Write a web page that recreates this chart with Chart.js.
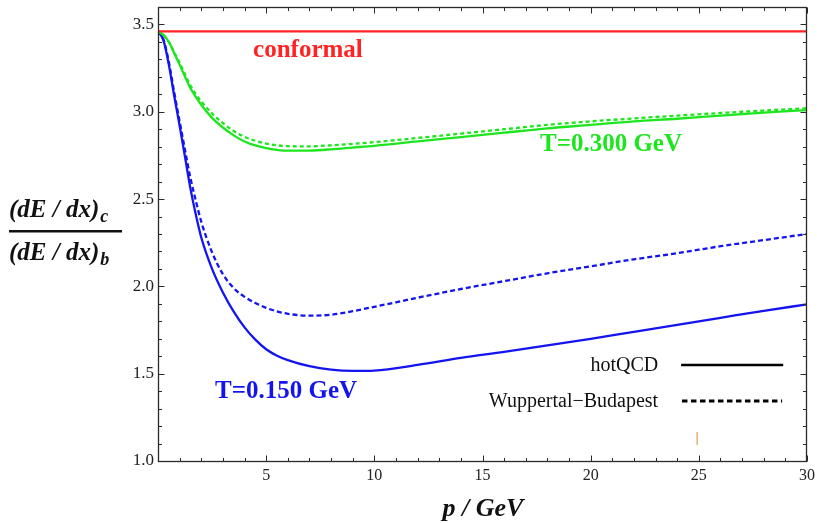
<!DOCTYPE html>
<html><head><meta charset="utf-8">
<script src="https://cdn.jsdelivr.net/npm/chart.js@4/dist/chart.umd.min.js"></script>
<style>html,body{margin:0;padding:0;background:#fff;}#wrap{width:817px;height:523px;}</style>
</head><body><div id="wrap"><canvas id="c" width="817" height="523"></canvas></div>
<script>
// ---- data ----
const momentum =    [0,   0.25, 0.5,  0.75, 1,    1.25, 1.5,  1.75, 2,    2.5,  3,    3.5,  4,    4.5,  5,    5.5,  6,    7,    8,    9,    10,   12,   14,   16,   18,   20,   22,   24,   26,   28,   30];
const blueHotQCD =  [3.46,3.41, 3.27, 3.09, 2.92, 2.74, 2.56, 2.41, 2.28, 2.10, 1.965,1.855,1.765,1.695,1.64, 1.603,1.578,1.543,1.523,1.516,1.518,1.55, 1.59, 1.625,1.662,1.70, 1.74, 1.78, 1.82, 1.86, 1.897];
const blueWB =      [3.46,3.415,3.285,3.11, 2.945,2.78, 2.62, 2.49, 2.37, 2.195,2.07, 1.99, 1.94, 1.905,1.877,1.857,1.843,1.832,1.838,1.858,1.883,1.935,1.985,2.03, 2.075,2.115,2.155,2.19, 2.23, 2.265,2.30];
const greenHotQCD = [3.46,3.44, 3.40, 3.335,3.27, 3.20, 3.135,3.085,3.04, 2.965,2.91, 2.865,2.83, 2.807,2.792,2.782,2.777,2.778,2.785,2.795,2.805,2.83, 2.855,2.88, 2.905,2.925,2.945,2.96, 2.978,2.995,3.01];
const greenWB =     [3.46,3.44, 3.40, 3.34, 3.28, 3.215,3.15, 3.10, 3.06, 2.99, 2.935,2.89, 2.857,2.834,2.818,2.808,2.803,2.802,2.808,2.816,2.826,2.85, 2.875,2.90, 2.925,2.945,2.962,2.978,2.993,3.007,3.02];
const conformalP = [0,30];
const conformalVal = [3.46,3.46];
const markP = [24.92,24.92];
const markVal = [1.166,1.092];
const xTickValues = [0,5,10,15,20,25,30];
const yTickValues = [1.0,1.5,2.0,2.5,3.0,3.5];

const RED = 'rgb(255,35,35)', GREEN = 'rgb(30,230,30)', BLUE = 'rgb(20,20,240)';
const pts = (xs, ys) => xs.map((x,i)=>({x:x,y:ys[i]}));
const line = (data,color,dash,w) => ({data, borderColor:color, borderWidth:w||2.3, borderDash:dash||[], pointRadius:0, fill:false, cubicInterpolationMode:'monotone'});
const noPad = s => { s.paddingTop = 0; s.paddingBottom = 0; s.paddingLeft = 0; s.paddingRight = 0; };

const deco = {
  id:'deco',
  afterDraw(chart){
    const ctx = chart.ctx, xs = chart.scales.x, ys = chart.scales.y;
    const {left,right,top,bottom} = chart.chartArea;
    ctx.save();
    // frame
    ctx.strokeStyle = '#2a2a2a'; ctx.lineWidth = 1.3;
    const L = Math.round(left)+0.5, R = Math.round(right)-0.5, T = Math.round(top)+0.5, B = Math.round(bottom)+0.5;
    ctx.strokeRect(L, T, R-L, B-T);
    // inward ticks
    ctx.lineWidth = 1;
    ctx.beginPath();
    for (let i=0;i<=30;i++){
      const x = Math.round(xs.getPixelForValue(i))+0.5, len = i%5===0?6:3.5;
      ctx.moveTo(x,B); ctx.lineTo(x,B-len);
      ctx.moveTo(x,T); ctx.lineTo(x,T+len);
    }
    for (let k=10;k<=36;k++){
      const y = Math.round(ys.getPixelForValue(k/10))+0.5, len = k%5===0?6:3.5;
      ctx.moveTo(L,y); ctx.lineTo(L+len,y);
      ctx.moveTo(R,y); ctx.lineTo(R-len,y);
    }
    ctx.stroke();
    // annotations
    ctx.textAlign='center'; ctx.textBaseline='middle';
    ctx.font = 'bold 25px "Liberation Serif"';
    ctx.fillStyle = RED; ctx.fillText('conformal', xs.getPixelForValue(6.93), ys.getPixelForValue(3.348));
    ctx.fillStyle = GREEN; ctx.fillText('T=0.300 GeV', xs.getPixelForValue(20.94), ys.getPixelForValue(2.81));
    ctx.fillStyle = BLUE; ctx.fillText('T=0.150 GeV', xs.getPixelForValue(5.92), ys.getPixelForValue(1.40));
    // legend
    ctx.fillStyle = '#111'; ctx.font = '20px "Liberation Serif"'; ctx.textAlign='right'; ctx.textBaseline='alphabetic';
    const lx = xs.getPixelForValue(23.12);
    const y1 = ys.getPixelForValue(1.55), y2 = ys.getPixelForValue(1.343);
    ctx.fillText('hotQCD', lx, y1+6);
    ctx.fillText('Wuppertal\u2212Budapest', lx, y2+6);
    ctx.strokeStyle = '#000'; ctx.lineWidth = 2.6;
    ctx.beginPath(); ctx.moveTo(xs.getPixelForValue(24.18), y1); ctx.lineTo(xs.getPixelForValue(28.9), y1); ctx.stroke();
    ctx.setLineDash([5.5,3.5]); ctx.lineWidth = 3;
    ctx.beginPath(); ctx.moveTo(xs.getPixelForValue(24.22), y2); ctx.lineTo(xs.getPixelForValue(28.85), y2); ctx.stroke();
    ctx.setLineDash([]);
    // y title (fraction)
    ctx.fillStyle = '#111'; ctx.textAlign='left';
    const drawFrac = (sub, base, subBase) => {
      ctx.font = 'bold italic 25px "Liberation Serif"';
      const main = '(dE / dx)';
      ctx.fillText(main, 9, base);
      const w = ctx.measureText(main).width;
      ctx.font = 'bold italic 18px "Liberation Serif"';
      ctx.fillText(sub, 9+w+1, subBase);
    };
    drawFrac('c', 217, 222);
    drawFrac('b', 260, 265);
    ctx.fillRect(9, 230, 113, 2.5);
    // x title
    ctx.font = 'bold italic 26px "Liberation Serif"'; ctx.textAlign='center';
    ctx.fillText('p / GeV', 483, 516);
    ctx.restore();
  }
};

new Chart(document.getElementById('c'), {
  type:'line',
  data:{ datasets:[
    line(pts(conformalP, conformalVal), RED),
    line(pts(momentum, greenWB), GREEN, [4,3]),
    line(pts(momentum, greenHotQCD), GREEN),
    line(pts(momentum, blueWB), BLUE, [5,3]),
    line(pts(momentum, blueHotQCD), BLUE),
    line(pts(markP, markVal), 'rgb(215,130,40)', [], 1)
  ]},
  options:{
    responsive:false, animation:false, devicePixelRatio:1,
    layout:{padding:{left:0,right:10,top:7,bottom:0}},
    plugins:{legend:{display:false}, tooltip:{enabled:false}},
    scales:{
      x:{type:'linear', min:0, max:30,
        afterBuildTicks: s => { s.ticks = xTickValues.map(v=>({value:v})); },
        afterFit: s => { s.height = 62; noPad(s); },
        ticks:{callback: v => v===0 ? '' : String(v), font:{family:'Liberation Serif', size:16}, color:'#222', padding:5, maxRotation:0, autoSkip:false},
        grid:{display:false, drawTicks:false}, border:{display:false}},
      y:{type:'linear', min:1, max:3.6,
        afterBuildTicks: s => { s.ticks = yTickValues.map(v=>({value:v})); },
        afterFit: s => { s.width = 158; noPad(s); },
        ticks:{callback: v => Number(v).toFixed(1), font:{family:'Liberation Serif', size:17}, color:'#222', padding:4, autoSkip:false},
        grid:{display:false, drawTicks:false}, border:{display:false}}
    }
  },
  plugins:[deco]
});
</script></body></html>
